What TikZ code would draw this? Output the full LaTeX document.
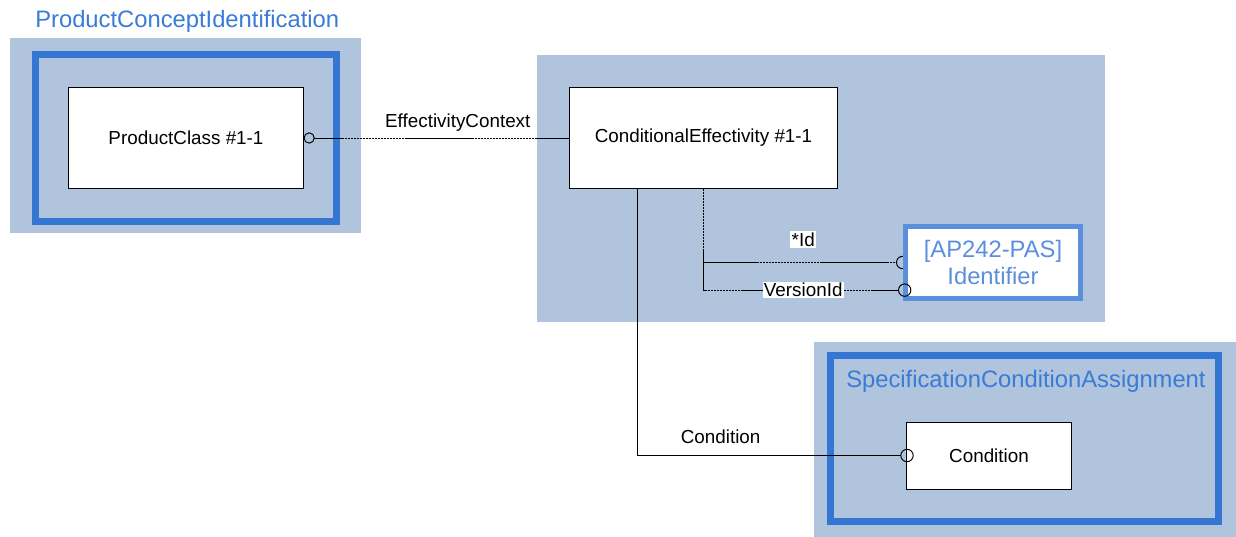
\documentclass[tikz,border=0pt]{standalone}
\usepackage{fontspec}
\setmainfont{Liberation Sans}
\usetikzlibrary{arrows.meta, positioning}

\definecolor{groupfill}{HTML}{B0C4DE}
\definecolor{frameblue}{HTML}{3476D2}
\definecolor{idblue}{HTML}{5B8FDB}
\definecolor{titleblue}{HTML}{3A7BD6}

\pgfdeclarelayer{back}
\pgfdeclarelayer{links}
\pgfsetlayers{back,links,main}

\tikzset{
  entity/.style={draw, line width=0.7pt, fill=white, font=\fontsize{13.4}{16}\selectfont},
  frame/.style={draw=frameblue, line width=5pt},
  grouptitle/.style={text=titleblue, font=\fontsize{16.9}{20}\selectfont, anchor=west, inner sep=0pt},
  assoc/.style={line width=0.7pt, dash pattern=on 1.8pt off 0.35pt},
  plain/.style={line width=0.7pt},
  role/.style={font=\fontsize{13.4}{16}\selectfont, inner sep=1pt},
  ring/.style={-{Circle[open, length=9.5pt, width=9.5pt]}},
}

\begin{document}
\begin{tikzpicture}[x=0.025cm, y=-0.025cm]
  \useasboundingbox (0,0) rectangle (1236,537);

  % grey-blue groups
  \begin{pgfonlayer}{back}
    \fill[groupfill] (10,38) rectangle (361,233);
    \fill[groupfill] (537,55) rectangle (1105,322);
    \fill[groupfill] (814,342) rectangle (1236,537);
    \draw[frame] (35.5,54.5) rectangle (336.5,221.5);
    \draw[frame] (830.5,355.5) rectangle (1218.5,521.5);
  \end{pgfonlayer}

  \node[grouptitle] (pcititle) at (35,21) {ProductConceptIdentification};
  \node[grouptitle] (scatitle) at (846,381) {SpecificationConditionAssignment};

  % entities
  \node[entity, minimum width=5.85cm, minimum height=2.5cm] (pc) at (186,138) {ProductClass \#1-1};
  \node[entity, minimum width=6.675cm, minimum height=2.5cm] (cef) at (703.5,138) {ConditionalEffectivity \#1-1};
  \node[entity, minimum width=4.1cm, minimum height=1.675cm] (cnd) at (989,455.5) {Condition};
  \node[draw=idblue, line width=3.6pt, fill=white, text=idblue, align=center,
        font=\fontsize{16.9}{19.2}\selectfont, minimum width=4.375cm, minimum height=1.8cm]
        (idf) at (993,262.5) {[AP242-PAS]\\Identifier};

  % associations
  \draw[assoc, {Circle[open, length=8pt, width=8pt]}-] (pc.east) --
    node[role, pos=0.58, above=0.12cm] (ecl) {EffectivityContext} (cef.west);

  \begin{pgfonlayer}{links}
    \draw[assoc, ring, shorten >=-0.16cm] (cef.south) |-
      node[role, fill=white, pos=0.75, above=0.35cm] (idl) {*Id} (idf.west);
  \end{pgfonlayer}

  \draw[assoc, ring, shorten >=-0.21cm] (cef.south) |-
    node[role, fill=white, pos=0.75] (vil) {VersionId} ([yshift=-0.69cm]idf.west);

  \draw[plain, ring, shorten >=-0.18cm] ([xshift=-1.66cm]cef.south) |-
    node[role, pos=0.655, above=0.25cm] (cdl) {Condition} (cnd.west);
\end{tikzpicture}
\end{document}
